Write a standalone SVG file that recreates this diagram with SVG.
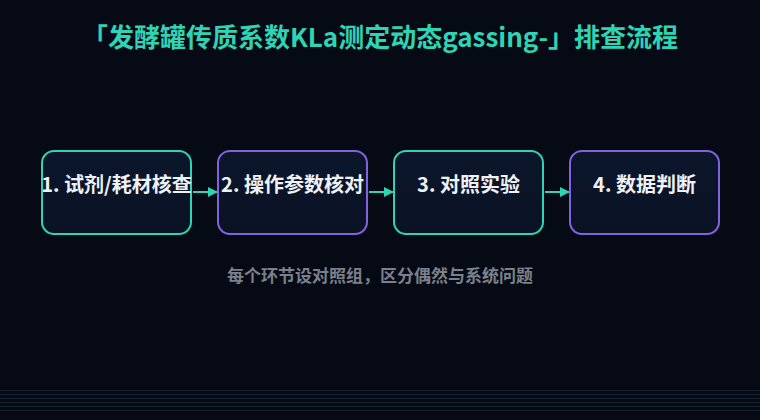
<svg xmlns="http://www.w3.org/2000/svg" width="760" height="420" viewBox="0 0 760 420">
  <defs>
    <style>
      .title { font-family: "Noto Sans CJK SC", "Noto Sans", sans-serif; font-weight: 700; font-size: 26px; fill: #2fd3b5; }
      .label { font-family: "Noto Sans CJK SC", "Noto Sans", sans-serif; font-weight: 700; font-size: 20px; fill: #eef2f7; }
      .note { font-family: "Noto Sans CJK SC", "Noto Sans", sans-serif; font-weight: 700; font-size: 17px; fill: #7b818c; }
      .box { fill: url(#boxfill); stroke-width: 2; }
      .teal { stroke: #2fd3b5; }
      .purple { stroke: #8163dd; }
      .conn { stroke: #2fd3b5; stroke-width: 2; fill: none; }
      .grid { stroke: #15212f; stroke-width: 1; }
    </style>
    <linearGradient id="boxfill" x1="0" y1="0" x2="0" y2="1">
      <stop offset="0" stop-color="#0c162b"/>
      <stop offset="1" stop-color="#0a1324"/>
    </linearGradient>
    <marker id="arrow" markerWidth="10" markerHeight="10" refX="9" refY="5" orient="auto" markerUnits="userSpaceOnUse">
      <path d="M0,0 L10,5 L0,10 Z" fill="#2fd3b5"/>
    </marker>
  </defs>
  <rect x="0" y="0" width="760" height="420" fill="#050a14"/>
  <g id="bottom-lines">
    <line class="grid" x1="0" y1="390.5" x2="760" y2="390.5"/>
    <line class="grid" x1="0" y1="394.5" x2="760" y2="394.5"/>
    <line class="grid" x1="0" y1="398.5" x2="760" y2="398.5"/>
    <line class="grid" x1="0" y1="402.5" x2="760" y2="402.5"/>
    <line class="grid" x1="0" y1="406.5" x2="760" y2="406.5"/>
    <line class="grid" x1="0" y1="410.5" x2="760" y2="410.5"/>
  </g>
  <text id="title" class="title" x="380" y="47" text-anchor="middle">「发酵罐传质系数KLa测定动态gassing-」排查流程</text>
  <g id="connectors">
    <line class="conn" x1="193" y1="192" x2="217" y2="192" marker-end="url(#arrow)"/>
    <line class="conn" x1="369" y1="192" x2="393" y2="192" marker-end="url(#arrow)"/>
    <line class="conn" x1="545" y1="192" x2="569" y2="192" marker-end="url(#arrow)"/>
  </g>
  <g id="node1">
    <rect class="box teal" x="42" y="151" width="149" height="83" rx="12"/>
    <text class="label" x="116.5" y="192" text-anchor="middle">1. 试剂/耗材核查</text>
  </g>
  <g id="node2">
    <rect class="box purple" x="218" y="151" width="149" height="83" rx="12"/>
    <text class="label" x="292.5" y="192" text-anchor="middle">2. 操作参数核对</text>
  </g>
  <g id="node3">
    <rect class="box teal" x="394" y="151" width="149" height="83" rx="12"/>
    <text class="label" x="468.5" y="192" text-anchor="middle">3. 对照实验</text>
  </g>
  <g id="node4">
    <rect class="box purple" x="570" y="151" width="149" height="83" rx="12"/>
    <text class="label" x="644.5" y="192" text-anchor="middle">4. 数据判断</text>
  </g>
  <text id="note" class="note" x="380" y="282" text-anchor="middle">每个环节设对照组，区分偶然与系统问题</text>
</svg>
